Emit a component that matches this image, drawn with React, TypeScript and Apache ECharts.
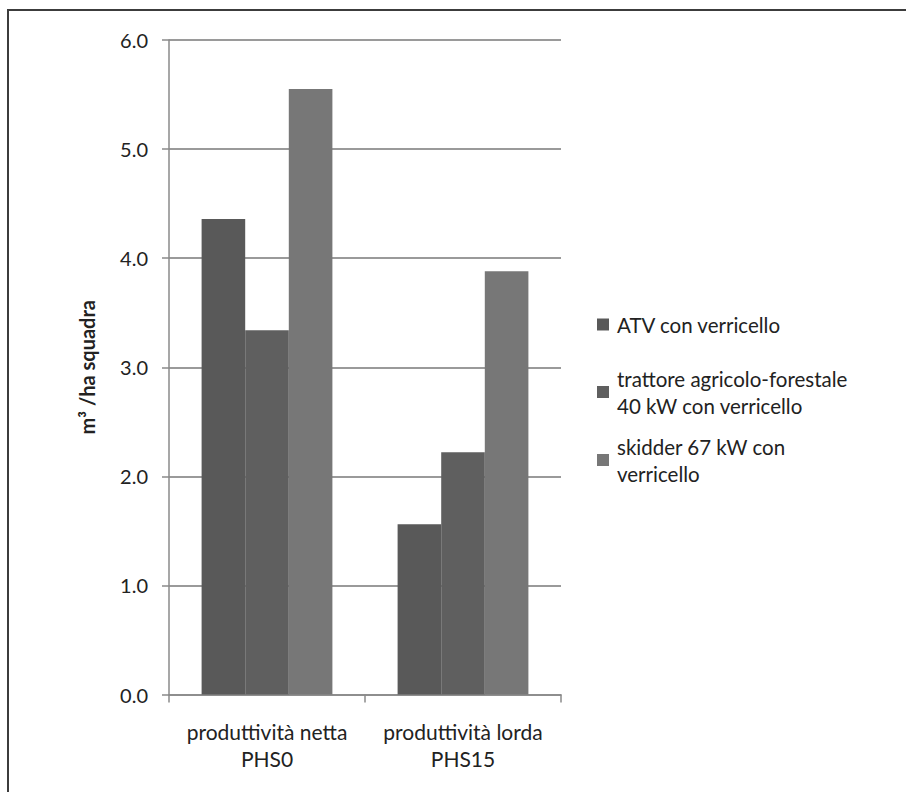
import React, { useEffect, useRef } from "react";
import * as echarts from "echarts";

const categories = ["produttività netta\nPHS0", "produttività lorda\nPHS15"];
const seriesNames = ["ATV con verricello", "trattore agricolo-forestale 40 kW con verricello", "skidder 67 kW con verricello"];
const legendLabels = ["ATV con verricello", "trattore agricolo-forestale\n40 kW con verricello", "skidder 67 kW con\nverricello"];
const atvValues = [4.36, 1.56];
const trattoreValues = [3.34, 2.22];
const skidderValues = [5.55, 3.88];
const yTicks = { min: 0, max: 6, interval: 1 };
const colors = ["#595959", "#5f5f5f", "#777777"];

const FONT = "Lato";

export default function App() {
  const ref = useRef<HTMLDivElement>(null);
  useEffect(() => {
    if (!ref.current) return;
    const chart = echarts.init(ref.current, undefined, { renderer: "svg" });
    const values = [atvValues, trattoreValues, skidderValues];
    const legendTops = [311, 351.5, 419.5];
    const legendPads = [[0, 0, 0, 3], [27, 0, 0, 3], [27, 0, 0, 3]];
    chart.setOption({
      animation: false,
      backgroundColor: "#ffffff",
      textStyle: { fontFamily: FONT },
      graphic: [
        {
          type: "rect",
          shape: { x: 8, y: 10, width: 1200, height: 1200 },
          style: { fill: "none", stroke: "#3c3c3c", lineWidth: 2 },
          silent: true,
        },
      ],
      grid: { left: 169, top: 40, width: 392, height: 654.5, containLabel: false },
      legend: seriesNames.map((n, i) => ({
        data: [n],
        orient: "vertical",
        left: 597,
        top: legendTops[i],
        padding: 0,
        icon: "rect",
        itemWidth: 12,
        itemHeight: 12,
        formatter: () => legendLabels[i],
        selectedMode: false,
        textStyle: {
          fontFamily: FONT,
          fontSize: 20.5,
          color: "#222",
          lineHeight: 27,
          padding: legendPads[i],
        },
      })),
      xAxis: {
        type: "category",
        data: categories,
        axisLine: { lineStyle: { color: "#8a8a8a", width: 1.5 } },
        axisTick: { show: true, length: 8, lineStyle: { color: "#8a8a8a", width: 1.5 } },
        axisLabel: {
          interval: 0,
          fontFamily: FONT,
          fontSize: 21,
          color: "#222",
          lineHeight: 27,
          margin: 23,
        },
      },
      yAxis: {
        type: "value",
        min: yTicks.min,
        max: yTicks.max,
        interval: yTicks.interval,
        name: "m³ /ha squadra",
        nameLocation: "middle",
        nameGap: 72,
        nameTextStyle: { fontFamily: FONT, fontSize: 20, fontWeight: "bold", color: "#222" },
        axisLine: { show: true, lineStyle: { color: "#8a8a8a", width: 1.5 } },
        axisTick: { show: true, length: 7, lineStyle: { color: "#8a8a8a", width: 1.5 } },
        axisLabel: {
          fontFamily: FONT,
          fontSize: 20,
          color: "#222",
          margin: 21,
          formatter: (v: number) => v.toFixed(1),
        },
        splitLine: { show: true, lineStyle: { color: "#9a9a9a", width: 2 } },
      },
      series: seriesNames.map((n, i) => ({
        name: n,
        type: "bar",
        data: values[i],
        barWidth: 43.6,
        barGap: "0%",
        itemStyle: { color: colors[i] },
      })),
    });
    return () => chart.dispose();
  }, []);
  return (
    <div
      ref={ref}
      style={{ position: "fixed", left: 0, top: 0, width: 906, height: 792 }}
    />
  );
}
